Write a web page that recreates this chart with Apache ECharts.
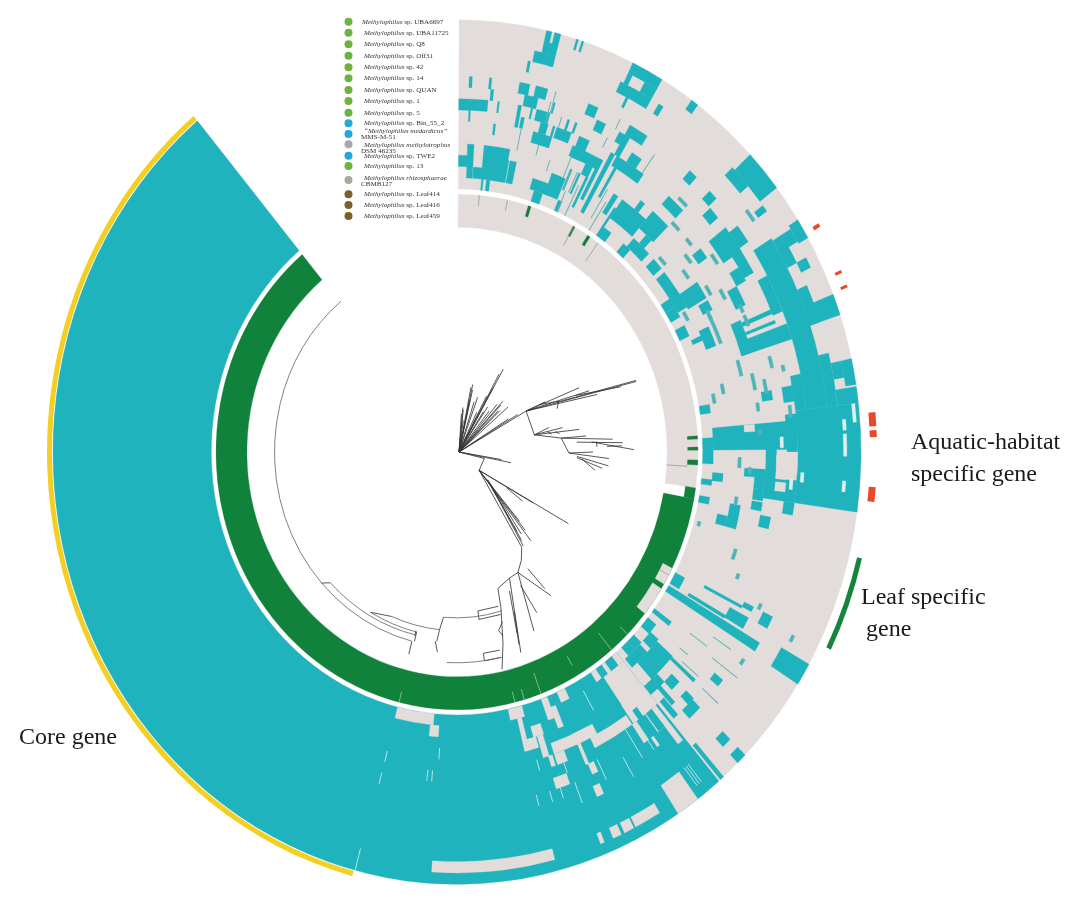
<!DOCTYPE html>
<html><head><meta charset="utf-8"><style>html,body{margin:0;background:#fff}#c{width:1080px;height:903px}</style>
<script src="https://cdn.jsdelivr.net/npm/echarts@6/dist/echarts.min.js"></script></head><body><div id="c"></div>
<script>
// Genomes, listed from the outermost ring (row 1) inward
const genomeNames = ["UBA6697","UBA11725","Q8","Off31","42","14","QUAN","1","5","Bin_55_2","medardicus","methylotrophus","TWE2","13","rhizosphaerae","Leaf414","Leaf416","Leaf459"];
const genomeColours = ["#6cb33f","#6cb33f","#6cb33f","#6cb33f","#6cb33f","#6cb33f","#6cb33f","#6cb33f","#6cb33f","#2aa5d8","#2aa5d8","#a8a8a8","#2aa5d8","#6cb33f","#aaa6a4","#7e5e2b","#7e5e2b","#7e5e2b"];

// Blocks: [geneStart, geneEnd, firstRow, lastRow]; gene axis runs 0-360 clockwise from the top
const backgroundRuns = [[0.3,320,1,15],[0.3,98,16,18]];
const leafRuns = [[98,100.5,16,16],[100.5,320,16,18]];
const coreRuns = [[139.6,320,1,15]];

const presenceTop = [
 [0.3,5.4,8,8],[0.3,2.3,13,13],[2.1,3.4,12,14],[5.4,10.6,12,13],[3.5,10.5,14,14],[7.5,10.8,13,14],[11,12.4,13,14],
 [6.6,7.4,15,15],[5.5,5.9,15,15],[2,2.5,6,6],[5.3,5.7,6,6],[5.7,6.2,7,7],[2.1,2.4,9,9],[6.8,7.2,10,10],[7.1,7.4,8,8],
 [11.7,14.8,3,3],[14,14.9,1,3],[12.8,13.6,1,2],[13.2,14.5,2,2],[11,11.4,4,4],[17.2,17.5,1,1],[18,18.3,1,1],
 [10.3,12,6,6],[13,15,6,6],[11.5,13.8,7,7],[14,16.4,8,8],[15.2,16.6,9,9],[14.3,16,10,10],[15.8,17.6,10,10],[18.2,21,9,9],
 [10.7,11.3,8,9],[11.6,12.2,9,9],[13,13.3,7,8],[17.5,17.9,9,10],[19.6,20,8,8],[21,21.4,8,8],[16.5,16.8,7,7],
 [22,23.7,6,6],[24.3,25.9,7,7],[22.5,24.5,9,10],[22,28,10,10],[25.5,27,11,11],
 [25.8,30.5,1,1],[25.8,26.5,2,2],[28.5,30.5,2,2],[25.3,30.5,3,3],[27,27.4,4,4],[31.8,32.6,3,3],[35.5,36.6,1,1],
 [29.5,32.8,6,6],[28.5,30,7,7],[30,35.7,9,9],[32,34,8,8],[29.5,30.5,7,8],[28.8,29.6,9,14],[27.5,28.2,10,13],[26.6,27.1,12,14],[30.6,31.1,10,12],
 [20,23,13,14],[16.5,21,14,14],[17.5,19.5,15,15],[23.3,24.2,15,15],[25,25.4,12,13],[23.2,23.6,12,13],
 [35,41,12,13],[33,34,12,13],[34.5,35,13,14],[41,45,11,12],[41.5,45,9,9],[34.5,37,15,15],[40.5,42.5,15,15],[41.5,46,14,14],[43,44.5,13,13],[38,39,11,11]
];
const presenceUpper = [
 [46.5,52.3,1,2],[46,49.5,3,3],[53,54,3,3],[46,47.6,6,6],[48,50,7,7],[41.5,43,6,6],
 [52,56.5,7,8],[55,60.5,7,7],[58.5,61,8,8],[53,56,6,6],
 [57.6,83.5,4,5],[62,68,6,6],[68.6,71.5,1,3],[66,71.5,3,3],[57.5,60.3,1,1],[59.5,62.5,3,3],[58,60,2,3],[62.5,64,2,2],
 [70,72.5,6,10],[66.5,72.5,10,10],[67,67.7,7,9],[68.8,69.3,7,9],
 [56.5,60,12,13],[56,58,15,15],[58,60.5,15,15],[56,59.5,14,14],[55,57.5,14,14],[60.5,62.5,12,12],[61,64.5,9,9],
 [51,55.5,14,14],[47.5,50,14,14],[52,54,10,10],[65,69,13,13],[62.5,65,15,15],[66,67,14,14]
];
const presenceRight = [
 [83.5,98,1,6],[76,83.5,3,3],[79,83.5,6,6],[77.5,81,1,1],[77.5,79.8,2,2],[81.3,83.5,1,2],
 [84,90,7,7],[85,89.6,8,14],[87,92.5,15,15],[94.5,98,7,9],[93,96.5,10,10],[93,94.5,11,11],[89,95.5,9,9],
 [94.3,96,14,14],[95.8,97,15,15],[96.5,98.5,10,10],[98,100,7,7],[99.5,101,15,15],[100,104.5,12,12],[102.5,104.5,13,13],
 [101,103,9,9],[98.8,100.3,10,10],[78,80.5,6,6],[79.6,81.2,9,9],[79.5,82,7,7],[80,81.8,15,15],[84,88,7,7]
];
const presenceLower = [
 [117.3,120,15,15],[120.5,122,6,15],[118,120,8,9],[116,116.9,8,8],[116,118,6,6],[119.4,122.5,1,3],[116.7,117.2,9,12],[119.6,120.2,10,13],
 [129,131.5,15,15],[131,133.5,14,14],[131.5,137.5,12,13],[134.5,139,14,14],[136,139.5,11,11],[131.7,132.3,9,11],[128.7,130,7,7],[134,136,10,10],
 [136,138,15,15],[134,136,15,15],[134.5,137,7,7],[134.2,135.6,8,8],[134.5,136,3,3],[134.5,136,1,1],[138.7,139.3,1,4],
 [126.5,127.5,14,15],[137,137.8,9,11],[138,139,8,9]
];
// Blocks that sit inside the gap next to the core, drawn over the missing runs
const presenceCoreEdge = [[141,143,15,15],[144,145.6,15,15],[141,142.3,8,9],[143,144,9,10],[145.2,146,12,14]];
// Thin rows: [geneStart, geneEnd, row]
const thinPresence = [
 [76,79,10],[77.5,80,9],[76.5,78.5,13],[78,80,14],[81.3,82.8,10],[82.5,84.5,7],[63,69,12],[91,93,12],[92.8,94,11],[98.5,100,12],
 [48,50,13],[51,53,11],[54,56,9],[62,64,12],[66,68,9],[60,62,14],[53,55,12],[58,60,11],[43,45,8],[45,47,10],[49,50.5,10],[52,54,4],[60,62,10],[64,65.5,9],[73,76,11],[74,76,8],[76,77,7],[86,87,10],
 [105,106,15],[108,110,11],[112,113,10],[115,116,7],[117,118,3],[124,125,6]
];
// Thin radial strokes of presence: [gene, firstRow, lastRow]
const thinRadial = [[16.4,6,7],[18.5,8,8],[16,7,8],[12,10,11],[15.9,11,11],[18.8,12,12],[23.5,12,13],[24.7,12,13],[27.1,8,8],[27.7,6,6],[35.4,7,8],[31.5,12,14],[32.5,13,15],[24,14,15],[26,13,15],[22.5,11,12],[129.4,11,11],[131,9,10],[127,6,8],[132,6,7],[126,10,11],[124,8,9]];
// Gene runs missing from otherwise shared blocks
const absentRuns = [
 [90,93.5,7,7],[90.5,94.5,8,8],[95,96.5,8,8],[85,86.3,11,11],
 [116.8,120.8,16,16],[122,128.8,16,16],
 [143.4,146.8,1,3],[145.5,153.5,10,10],[152,156.5,11,11],[153,161,11,11],[159,161,10,10],[160,162.5,8,8],[155.3,156.5,6,6],
 [149,153,2,2],[153.3,154.8,2,2],[155.3,156.6,2,2],[158,158.6,2,2],[165.6,183.7,2,2],
 [158.5,160,14,15],[161.8,164,13,13],[162,163.2,11,12],[161.4,162.2,10,10],[155.6,156.2,9,10],[154.7,155.8,8,8],[154,156,15,15],
 [139.6,145.2,10,14],[139.6,147,15,15],[185.3,194,15,15],[184,186,14,14],[164.7,168,15,15],[163.5,165.5,12,12],[165.4,166.4,12,14],[157.4,158.6,13,14],
 [140,141,6,9],[141,142.5,8,9],[143.5,144,7,7],[144.5,145.5,8,9]
];
const thinAbsent = [[85.5,87,2],[87.5,89,2],[89,90.6,2],[94,95.5,2],[93.2,94.7,6],[94.3,96,7],[87.5,89.3,8],[83.5,86,1]];
// Pale slits in the core: [gene, firstRow, lastRow]
const paleSlits = [[194,11,11],[194.1,9,9],[183.6,12,12],[185.6,10,10],[184.7,10,10],[166.1,7,7],[194.6,1,2],[164.5,10,10],[163.7,7,7],[159.1,6,7],[154,7,8],[149.8,6,7],[159.8,9,10],[161.8,7,7],[142.4,2,3],[142,2,3],[141.6,2,3],[144.7,7,8],[147,7,9],[150.5,13,14]];
const leafTicks = [[5.3,16,16],[12.1,16,16],[28.9,16,17],[35.8,16,17],[93.3,17,18],[118.5,16,16]];
const leafDarkRuns = [[17.2,17.9,16,16],[32.8,33.5,16,16],[86.4,87.1,16,16],[88.9,89.6,16,16],[91.8,92.9,16,16],[28.8,29.3,16,16]];
const leafPaleTicks = [[140.1,16,17],[159.6,16,17],[150,17,17],[135,16,16],[166.1,16,16],[163.8,16,16],[193.9,16,16]];

// Outer annotation arcs: [geneStart, geneEnd]
const coreArc = [[194.8,320]];
const leafArc = [[103.8,116.3]];
const aquaticMarks = [[59.4,59.9],[66.1,66.5],[68.1,68.5],[84.9,86.7],[87.2,88.1],[94.5,96.4]];

// Gene tree, in [gene, depth] pairs: radial branches [g0,d0,g1,d1] and arcs [depth,g0,g1]
const treeBranches = [
 [90,2,14,65],[90,2,13,62],[90,2,15,60],[90,2,14.5,50],[90,2,30.9,90],[90,2,30,84],[90,2,31,70],[90,2,29.5,60],[90,2,8,42],[90,2,9,40],[90,2,7,36],[90,2,36,52],[90,2,35,46],[90,2,50.5,66],[90,2,44,66],[90,2,42,60],[90,2,45,62],[90,2,47,56],[90,2,22,55],[90,2,20,50],[90,2,48,58],[90,2,28,42],[90,2,12,30],[90,2,40,50],
 [90,2,61,79],[90,2,60,70],[90,2,59,60],[61,79,69.8,191],[61,79,69,150],[65,110,69.5,191],[66,130,69.6,175],[61,79,63.8,136],[61,79,66.6,144],[61,79,62,100],[62,95,65,112],[65,112,68,108],
 [61,79,78.3,79],[78.3,79,80.2,124],[78.3,79,77.8,108],[78.3,79,76,95],[78.3,79,82.9,105],[78,92,80,96],[79,100,80.5,104],
 [82.9,105,83.4,130],[82.9,105,85.6,156],[85.6,120,87,166],[86,135,89.3,177],[82.9,105,90.5,112],[90.5,112,90,136],[90.5,112,92.3,152],[92,120,94.9,152],[92.5,120,96,146],[93,125,97,139],[88,150,88,165],[86,140,88,140],
 [90,2,100.5,55],[90,2,99,45],[90,2,102.5,28],[102.5,28,127.7,28],[127.7,28,121,130],[127.7,28,122,90],[124,60,125,80],[127.7,28,138.3,111],[127.7,28,136,90],[127.7,28,137,100],[127.7,28,144,110],[130,40,140,100],[132,45,142,105],[131,40,141,95],[134,50,143,110],
 [144,110,147.6,120],[147.6,120,151.6,128],[151.6,128,145,164],[147,130,145.5,155],[151.6,128,155.3,184],[153,140,152,170],[151.6,128,156,129],[156,129,161.2,198],[158,140,160.5,180],[159,160,161,190],[156,129,162.2,134],[162.2,134,163.2,152],[163.2,152,165.6,185],[165.6,185,167.5,208],[164,165,166,172],[166,172,165,178],
 [185,155,186,167],[203,167,210,173],[226,176,228,183],[194.3,182.5,194.3,195],[172,150,172,158],[164,150,172,150],[164,158,172,158],[167,190,172,190],[167,197,172,197],[172,190,172,197],
 [186,167,186.5,178],[187,178,186,188],[193.5,173,193.5,182],[193.8,172,193.8,177]
];
const treeArcs = [[155,163.2,185],[197,167,183],[167,186,203],[173,193.5,210],[176,193.5,226],[182.5,194.3,320.5]];

const centerX = 457, centerY = 452, stretchY = 1.07, depthMax = 425;
const ringOuter = 404, ringStep = 10.55, leafOuter = 241, leafStep = 10.3;
const rowOuter = r => r <= 15 ? ringOuter - (r - 1) * ringStep : leafOuter - (r - 16) * leafStep;
const rowInner = r => r <= 15 ? ringOuter - r * ringStep : leafOuter - (r - 15) * leafStep;

function geom(api, g0, g1, d0, d1) {
  const a = api.coord([d1, g0]), b = api.coord([d1, g1]), c = api.coord([d0, g0]);
  const cx = centerX, cy = centerY;
  let s = Math.atan2(a[1]-cy, a[0]-cx), e = Math.atan2(b[1]-cy, b[0]-cx);
  if (e <= s) e += Math.PI * 2;
  return {cx, cy, r: Math.hypot(a[0]-cx, a[1]-cy), r0: Math.hypot(c[0]-cx, c[1]-cy), s, e};
}
const sectorSeries = (rows, colour, z, thin) => ({
  type:'custom', coordinateSystem:'polar', silent:true, animation:false, clip:false, z,
  encode:{angle:0, radius:2},
  data: rows,
  renderItem(p, api){
    const g0 = api.value(0), g1 = api.value(1), r1 = api.value(2), r2 = thin ? r1 : api.value(3);
    let dOut = rowOuter(r1), dIn = rowInner(r2);
    if (thin) { const m=(dOut+dIn)/2; dOut=m+1.7; dIn=m-1.7; }
    const q = geom(api, g0, g1, dIn, dOut);
    return {type:'sector', originX:q.cx, originY:q.cy, scaleY:stretchY,
      shape:{cx:q.cx, cy:q.cy, r:q.r, r0:q.r0, startAngle:q.s, endAngle:q.e, clockwise:true},
      style:{fill:colour, stroke:colour, lineWidth:0.25}};
  }
});
const depthBand = (rows, colour, d0, d1, z) => ({
  type:'custom', coordinateSystem:'polar', silent:true, animation:false, clip:false, z,
  encode:{angle:0}, data: rows,
  renderItem(p, api){
    const q = geom(api, api.value(0), api.value(1), d0, d1);
    return {type:'sector', originX:q.cx, originY:q.cy, scaleY:stretchY,
      shape:{cx:q.cx, cy:q.cy, r:q.r, r0:q.r0, startAngle:q.s, endAngle:q.e, clockwise:true},
      style:{fill:colour}};
  }
});
const slitSeries = (rows, colour, width, z) => ({
  type:'custom', coordinateSystem:'polar', silent:true, animation:false, clip:false, z,
  encode:{angle:0, radius:1}, data: rows,
  renderItem(p, api){
    const g = api.value(0), a = api.coord([rowOuter(api.value(1)), g]), b = api.coord([rowInner(api.value(2)), g]);
    return {type:'line', originX:centerX, originY:centerY, scaleY:stretchY,
      shape:{x1:a[0],y1:a[1],x2:b[0],y2:b[1]}, style:{stroke:colour, lineWidth:width}};
  }
});
const branchSeries = {
  type:'custom', coordinateSystem:'polar', silent:true, animation:false, clip:false, z:6,
  encode:{angle:0, radius:1}, data: treeBranches,
  renderItem(p, api){
    const a = api.coord([api.value(1), api.value(0)]), b = api.coord([api.value(3), api.value(2)]);
    return {type:'line', originX:centerX, originY:centerY, scaleY:stretchY,
      shape:{x1:a[0],y1:a[1],x2:b[0],y2:b[1]}, style:{stroke:'#333', lineWidth:0.8}};
  }
};
const arcSeries = {
  type:'custom', coordinateSystem:'polar', silent:true, animation:false, clip:false, z:6,
  encode:{radius:0, angle:1}, data: treeArcs,
  renderItem(p, api){
    const d = api.value(0), q = geom(api, api.value(1), api.value(2), 0, d);
    return {type:'arc', originX:q.cx, originY:q.cy, scaleY:stretchY,
      shape:{cx:q.cx, cy:q.cy, r:q.r, startAngle:q.s, endAngle:q.e, clockwise:true},
      style:{stroke:'#666', fill:'none', lineWidth:0.8}};
  }
};

const legendY = [21.7,32.7,44.3,55.7,67.3,78.3,90,101,112.7,123.3,134,144.3,155.7,166,180,194.3,205,216];
const serif = 'Liberation Serif', legendSize = 7.1;
const legendText = [];
genomeNames.forEach((n,i)=>{
  legendText.push({type:'circle', shape:{cx:348.5, cy:legendY[i], r:4}, style:{fill:genomeColours[i]}});
  const rich = {i:{fontFamily:serif,fontStyle:'italic',fontSize:legendSize,fill:'#333'}, n:{fontFamily:serif,fontSize:legendSize,fill:'#333'}};
  const add = (txt,x,y)=>legendText.push({type:'text', x, y, style:{text:txt, rich, verticalAlign:'middle', align:'left', font:legendSize+'px '+serif, fill:'#333'}});
  if (n==='medardicus'){ add('{i|“Methylophilus medardicus”}',364,131.5); add('{n|MMS-M-51}',361,137.5); }
  else if (n==='methylotrophus'){ add('{i|Methylophilus methylotrophus}',364,145); add('{n|DSM 46235}',361,151); }
  else if (n==='rhizosphaerae'){ add('{i|Methylophilus rhizosphaerae}',364,178); add('{n|CBMB127}',361,184.5); }
  else add('{i|Methylophilus} {n|sp. '+n+'}', i===0?362:364, legendY[i]);
});
const label = (t,x,y,s)=>({type:'text', x, y, style:{text:t, font:s+'px '+serif, fill:'#1a1a1a', verticalAlign:'middle', align:'left'}});

const chart = echarts.init(document.getElementById('c'), null, {renderer:'canvas'});
chart.setOption({
  animation:false, backgroundColor:'#fff',
  polar:{center:[centerX,centerY], radius:depthMax},
  angleAxis:{type:'value', min:0, max:360, startAngle:90, clockwise:true, show:false},
  radiusAxis:{type:'value', min:0, max:depthMax, show:false},
  series:[
    sectorSeries(backgroundRuns,'#e2dcda',1),
    sectorSeries(coreRuns,'#1fb3bd',2),
    sectorSeries(presenceTop,'#1fb3bd',2),
    sectorSeries(presenceUpper,'#1fb3bd',2),
    sectorSeries(presenceRight,'#1fb3bd',2),
    sectorSeries(presenceLower,'#1fb3bd',2),
    sectorSeries(thinPresence,'#4fb5b8',2,true),
    slitSeries(thinRadial,'#6bb5b6',1,2),
    sectorSeries(leafRuns,'#10823c',2),
    sectorSeries(absentRuns,'#e2dcda',3),
    sectorSeries(presenceCoreEdge,'#1fb3bd',4),
    sectorSeries(thinAbsent,'#dfeef0',3,true),
    slitSeries(paleSlits,'#bfe6e8',0.9,3),
    sectorSeries(leafDarkRuns,'#1c7a3c',3),
    slitSeries(leafTicks,'#8b9a8b',0.7,3),
    slitSeries(leafPaleTicks,'#9fc48a',0.8,3),
    depthBand(coreArc,'#f3cf24',ringOuter+1,ringOuter+6,4),
    depthBand(leafArc,'#15853c',ringOuter+8,ringOuter+13,4),
    depthBand(aquaticMarks,'#e8492a',ringOuter+9,ringOuter+16,4),
    branchSeries, arcSeries
  ],
  graphic:{elements:[...legendText,
    label('Core gene',19,738,24),
    label('Aquatic-habitat',911,443,24),
    label('specific gene',911,475,24),
    label('Leaf specific',861,598,24),
    label('gene',866,630,24)]}
});
</script></body></html>
